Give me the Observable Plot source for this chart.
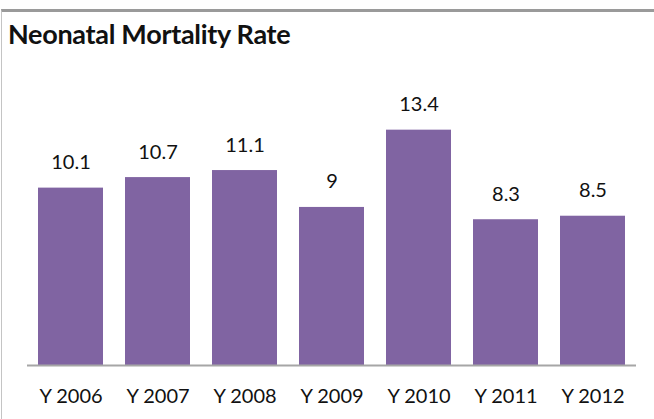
<!DOCTYPE html>
<html>
<head>
<meta charset="utf-8">
<script src="https://cdn.jsdelivr.net/npm/d3@7"></script>
<script src="https://cdn.jsdelivr.net/npm/@observablehq/plot@0.6"></script>
<style>
  html, body { margin: 0; padding: 0; background: #fff; }
  body { width: 654px; height: 419px; position: relative; overflow: hidden; font-family: Lato, "Open Sans", sans-serif; }
  #frame { position: absolute; left: 1px; top: 9px; width: 653px; height: 420px; border-top: 3px solid #9a9a9a; border-left: 1px solid #c4c4c4; box-sizing: border-box; }
  #title { position: absolute; left: 8px; top: 17px; font-family: Lato, sans-serif; font-weight: bold; font-size: 27px; color: #111; letter-spacing: -0.3px; white-space: nowrap; }
  #chart { position: absolute; left: 0; top: 60px; }
</style>
</head>
<body>
<div id="frame"></div>
<div id="title">Neonatal Mortality Rate</div>
<div id="chart"></div>
<script>
const categories = ["Y 2006", "Y 2007", "Y 2008", "Y 2009", "Y 2010", "Y 2011", "Y 2012"];
const values = [10.1, 10.7, 11.1, 9, 13.4, 8.3, 8.5];
const labels = ["10.1", "10.7", "11.1", "9", "13.4", "8.3", "8.5"];

const data = categories.map((c, i) => ({year: c, value: values[i], label: labels[i]}));

const chart = Plot.plot({
  width: 654,
  height: 359,
  marginLeft: 27,
  marginRight: 18,
  marginTop: 24,
  marginBottom: 54,
  style: {fontFamily: "Lato, sans-serif", fontSize: "20px", color: "#111", background: "transparent"},
  x: {domain: categories, paddingInner: 0.25, paddingOuter: 0.125, label: null},
  y: {domain: [0, 16], axis: null},
  marks: [
    Plot.barY(data, {x: "year", y: "value", fill: "#8064A2"}),
    Plot.ruleY([0], {stroke: "#a6a6a6", strokeWidth: 2}),
    Plot.text(data, {x: "year", y: "value", text: "label", lineAnchor: "bottom", dy: -19, fontSize: 20, fill: "#111"}),
    Plot.axisX({tickSize: 0, tickPadding: 23, fontSize: 20, fill: "#111", label: null})
  ]
});
document.getElementById("chart").appendChild(chart);
</script>
</body>
</html>
